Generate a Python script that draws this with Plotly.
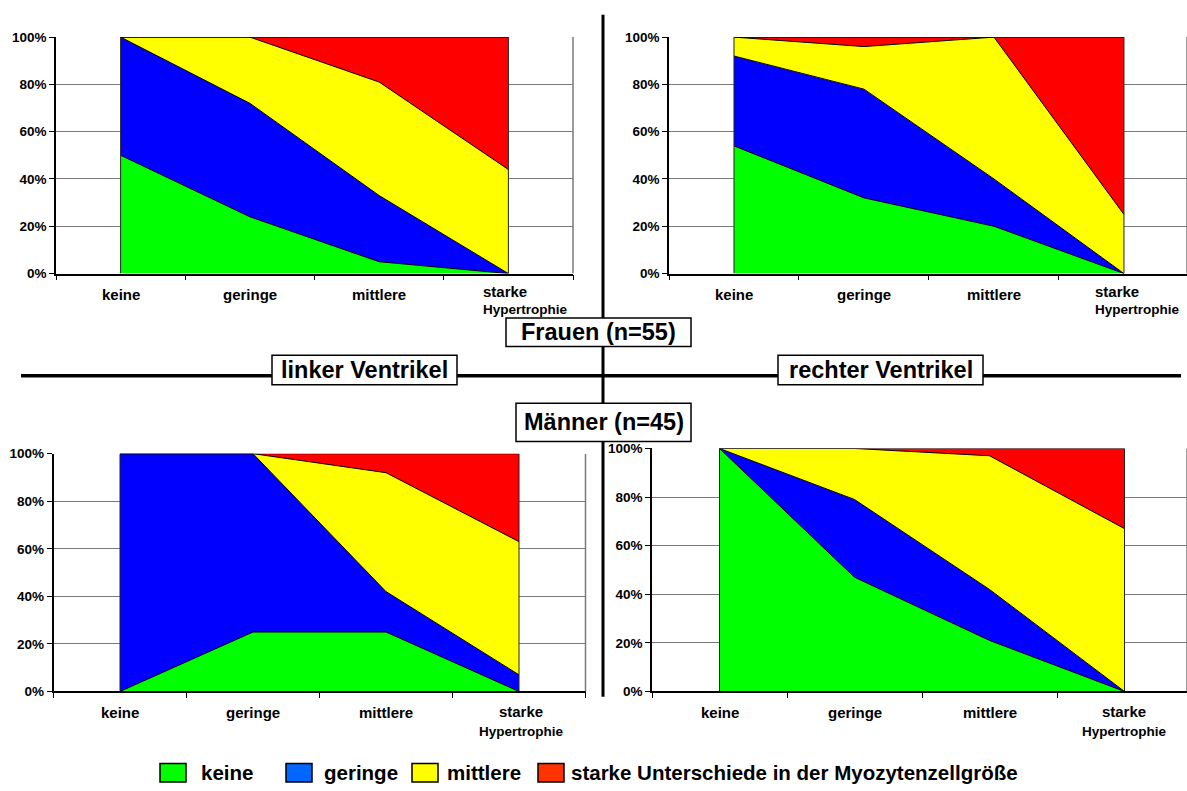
import plotly.graph_objects as go

# ---------------- data ----------------
categories = ["keine", "geringe", "mittlere", "starke"]
hyp_label = "Hypertrophie"
series_names = ["keine", "geringe", "mittlere", "starke Unterschiede in der Myozytenzellgröße"]

# Frauen, linker Ventrikel (% per hypertrophy grade)
fl_keine = [50, 24, 5, 0]
fl_geringe = [50, 48, 28, 0]
fl_mittlere = [0, 28, 48, 44]
fl_starke = [0, 0, 19, 56]

# Frauen, rechter Ventrikel
fr_keine = [54, 32, 20, 0]
fr_geringe = [38, 46, 20, 0]
fr_mittlere = [8, 18, 60, 25]
fr_starke = [0, 4, 0, 75]

# Männer, linker Ventrikel
ml_keine = [0, 25, 25, 0]
ml_geringe = [100, 75, 17, 7]
ml_mittlere = [0, 0, 50, 56]
ml_starke = [0, 0, 8, 37]

# Männer, rechter Ventrikel
mr_keine = [100, 47, 21, 0]
mr_geringe = [0, 32, 21, 0]
mr_mittlere = [0, 21, 55, 67]
mr_starke = [0, 0, 3, 33]

y_ticks = [0, 20, 40, 60, 80, 100]
y_ticktext = ["0%", "20%", "40%", "60%", "80%", "100%"]

area_colors = ["#00FF00", "#0000FF", "#FFFF00", "#FF0000"]
legend_colors = ["#00FF00", "#0066FF", "#FFFF00", "#FF3300"]

box_labels = ["Frauen (n=55)", "Männer (n=45)", "linker Ventrikel", "rechter Ventrikel"]

# ---------------- layout helpers ----------------
W, H = 1187, 791
FONT = "Liberation Sans, Arial, Helvetica, sans-serif"


def px(x):
    return x / W


def py(y):
    return 1 - y / H


panels = [
    # name, data, x0, x1, ytop, ybot, range_end, last-label: (align, xanchor, xshift, spacing-font, y-center)
    ("1", [fl_keine, fl_geringe, fl_mittlere, fl_starke], 56, 573, 30.7, 271.7, 3.5, ("left", "left", -27, 12.9, 299)),
    ("2", [fr_keine, fr_geringe, fr_mittlere, fr_starke], 669, 1187, 30.7, 271.7, 3.485, ("left", "left", -31, 12.9, 299)),
    ("3", [ml_keine, ml_geringe, ml_mittlere, ml_starke], 53.5, 585.5, 455.3, 697.7, 3.5, ("center", "center", 2, 14.6, 728)),
    ("4", [mr_keine, mr_geringe, mr_mittlere, mr_starke], 652, 1187, 450, 697.7, 3.463, ("center", "center", 0, 14.6, 728)),
]

fig = go.Figure()
layout = dict(
    width=W, height=H, autosize=False,
    margin=dict(l=0, r=0, t=0, b=0),
    paper_bgcolor="white", plot_bgcolor="white",
    showlegend=False,
    font=dict(family=FONT, color="black"),
)
shapes = []
annotations = []

for name, series, x0, x1, ytop, ybot, rend, last in panels:
    xa = "x" if name == "1" else "x" + name
    ya = "y" if name == "1" else "y" + name
    for vals, col, sname in zip(series, area_colors, series_names):
        fig.add_trace(go.Scatter(
            x=categories, y=vals, name=sname,
            mode="lines", stackgroup="g" + name,
            line=dict(color="black", width=1),
            fillcolor=col, xaxis=xa, yaxis=ya,
            hoverinfo="x+y+name",
        ))
    layout["xaxis" + ("" if name == "1" else name)] = dict(
        domain=[px(x0), px(x1)], anchor=ya, type="category",
        range=[-0.5, rend], tickson="boundaries",
        showgrid=False, zeroline=False,
        showline=True, linecolor="black", linewidth=1.5,
        ticks="outside", ticklen=5, tickcolor="black", tickwidth=1,
        showticklabels=False, fixedrange=True,
    )
    layout["yaxis" + ("" if name == "1" else name)] = dict(
        domain=[py(ybot), py(ytop)], anchor=xa,
        range=[0, 100], tickmode="array", tickvals=y_ticks, ticktext=y_ticktext,
        showgrid=True, gridcolor="#7a7a7a", gridwidth=1,
        zeroline=False,
        showline=True, linecolor="black", linewidth=1.5,
        ticks="outside", ticklen=5, tickcolor="black",
        tickfont=dict(family=FONT, size=13.5, color="black", weight="bold"),
        fixedrange=True,
    )
    # right border of plot area
    shapes.append(dict(type="line", xref=xa + " domain", yref=ya,
                       x0=1, x1=1, y0=0, y1=100,
                       line=dict(color="#7a7a7a", width=1.5)))
    # vertical edges of the area polygons
    for ci in (0, len(categories) - 1):
        shapes.append(dict(type="line", xref=xa, yref=ya,
                           x0=ci, x1=ci, y0=0, y1=100,
                           line=dict(color="#222222", width=1)))
    # x category labels
    lab_y = ybot + 21
    for c in categories[:-1]:
        annotations.append(dict(
            x=c, xref=xa, y=py(lab_y), yref="paper",
            text="<b>%s</b>" % c, showarrow=False,
            xanchor="center", yanchor="middle",
            font=dict(family=FONT, size=15, color="black"),
        ))
    align, xanc, xsh, fsz, yc = last
    annotations.append(dict(
        x=categories[-1], xref=xa, xshift=xsh, y=py(yc), yref="paper",
        text='<b><span style="font-size:15px">%s</span><br>'
             '<span style="font-size:13.5px">%s</span></b>' % (categories[-1], hyp_label),
        showarrow=False, align=align,
        xanchor=xanc, yanchor="middle",
        font=dict(family=FONT, size=fsz, color="black"),
    ))

# divider lines
shapes.append(dict(type="line", xref="paper", yref="paper",
                   x0=px(21), x1=px(1181), y0=py(376), y1=py(376),
                   line=dict(color="black", width=3.5)))
shapes.append(dict(type="line", xref="paper", yref="paper",
                   x0=px(603), x1=px(603), y0=py(8), y1=py(703),
                   line=dict(color="black", width=3)))

# label boxes
box_geom = [(506, 691, 317, 346), (516, 691, 404, 443), (272, 457, 355, 385), (778, 983, 355, 385)]
for lab, (bx0, bx1, by0, by1) in zip(box_labels, box_geom):
    shapes.append(dict(type="rect", xref="paper", yref="paper",
                       x0=px(bx0), x1=px(bx1), y0=py(by1), y1=py(by0),
                       fillcolor="white", line=dict(color="black", width=1.5)))
    annotations.append(dict(
        x=px((bx0 + bx1) / 2), y=py((by0 + by1) / 2), xref="paper", yref="paper",
        text="<b>%s</b>" % lab, showarrow=False, xanchor="center", yanchor="middle",
        font=dict(family=FONT, size=23.5, color="black"),
    ))

# custom legend
legend_sq_x = [160, 286, 412, 538]
legend_txt_x = [199, 322, 445, 569]
for sname, col, sx, tx in zip(series_names, legend_colors, legend_sq_x, legend_txt_x):
    shapes.append(dict(type="rect", xref="paper", yref="paper",
                       x0=px(sx), x1=px(sx + 26), y0=py(790), y1=py(771),
                       fillcolor=col, line=dict(color="black", width=1.5)))
    annotations.append(dict(
        x=px(tx), y=py(780), xref="paper", yref="paper",
        text="<b>%s</b>" % sname, showarrow=False, xanchor="left", yanchor="middle",
        font=dict(family=FONT, size=20.5, color="black"),
    ))

layout["shapes"] = shapes
layout["annotations"] = annotations
fig.update_layout(**layout)

page_fix = (
    "document.documentElement.style.margin='0px';"
    "document.documentElement.style.padding='0px';"
    "document.documentElement.style.overflow='hidden';"
    "document.body.style.margin='0px';"
    "document.body.style.padding='0px';"
    "document.body.style.overflow='hidden';"
    "var gd=document.getElementById('{plot_id}');"
    "gd.style.position='fixed';gd.style.left='0px';gd.style.top='0px';"
)
fig.write_html("out.html", config={"displayModeBar": False}, post_script=page_fix)
